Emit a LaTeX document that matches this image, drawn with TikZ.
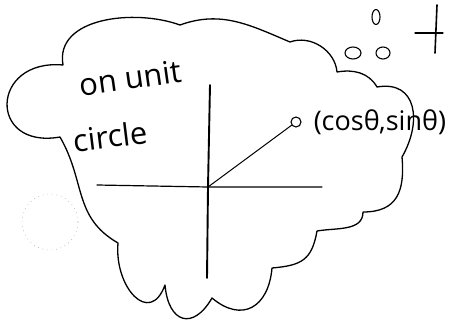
\documentclass[tikz,border=0pt]{standalone}
\usepackage{fontspec}
\setsansfont{Open Sans}
\usetikzlibrary{shapes}
\usetikzlibrary{positioning}
\tikzset{
  cloud_line/.style = {line width=1.3pt, line cap=round, line join=round},% contour du nuage
  axis_line/.style = {line width=1.6pt, line cap=round},
  ray_line/.style = {line width=1pt, line cap=round},
  hand_text/.style = {font=\sffamily\fontsize{31}{34}\selectfont, inner sep=0pt},
  label_text/.style = {font=\sffamily\fontsize{27}{30}\selectfont, inner sep=0pt},
  point_dot/.style = {circle, draw, line width=1.1pt, minimum size=10pt, inner sep=0pt},
  bubble/.style = {ellipse, draw, line width=1.1pt, inner sep=0pt},% petites bulles
  ghost_circle/.style = {circle, draw=black!35, loosely dotted, line width=0.6pt,
    minimum size=56pt, inner sep=0pt}
}
\begin{document}
\begin{tikzpicture}[x=1pt, y=1pt]
  \useasboundingbox (0,0) rectangle (449,325);

  % nuage
  \draw [cloud_line] (63,260) to[out=100, in=160] (180,300)
    to[out=20, in=157] (290,283)
    to[out=20, in=95] (337,253)
    to[out=10, in=120] (377,238)
    to[out=10, in=60, looseness=1.4] (402,168)
    to[out=-85, in=0, looseness=1.3] (363,113)
    to[out=-90, in=10] (317,94)
    to[out=-100, in=5, looseness=1.3] (272,57)
    to[out=-95, in=-40, looseness=1.5] (212,27)
    to[out=-120, in=-85, looseness=2] (165,40)
    to[out=-110, in=-95, looseness=1.8] (118,82)
    to[out=150, in=-60, looseness=1.1] (60,188)
    to[out=190, in=175, looseness=2.6] (63,260);

  % axes
  \coordinate (origin) at (208,138);
  \coordinate (y_top) at (210,240);
  \coordinate (y_bot) at (207,47);
  \coordinate (x_left) at (97,140);
  \coordinate (x_right) at (322,138);
  \draw [axis_line, line width=1.9pt] (y_top) -- (origin) -- (y_bot);
  \draw [axis_line, line width=1.2pt] (x_left) -- (origin) -- (x_right);

  % point sur le cercle
  \node [point_dot] (pt) at (296,203) {};
  \draw [ray_line] (origin) -- (pt);
  \node [label_text, right=12pt of pt] (pt_label) {(cosθ,sinθ)};

  \node [hand_text, rotate=8] (txt_on) at (130,247) {on unit};
  \node [hand_text, rotate=7] (txt_circle) at (110,189) {circle};

  % bulles et plus
  \node [bubble, minimum width=16pt, minimum height=12pt] (bub_a) at (353,272) {};
  \node [bubble, minimum width=14pt, minimum height=12pt] (bub_b) at (383,272) {};
  \node [bubble, minimum width=8pt, minimum height=15pt] (bub_c) at (376,308) {};
  \coordinate (plus_top) at (437,320);
  \coordinate (plus_bot) at (435,272);
  \coordinate (plus_l) at (415,292);
  \coordinate (plus_r) at (443,292);
  \draw [axis_line] (plus_top) -- (plus_bot);
  \draw [axis_line, line width=1.2pt] (plus_l) -- (plus_r);

  \node [ghost_circle] (ghost) at (50,103) {};
\end{tikzpicture}
\end{document}
